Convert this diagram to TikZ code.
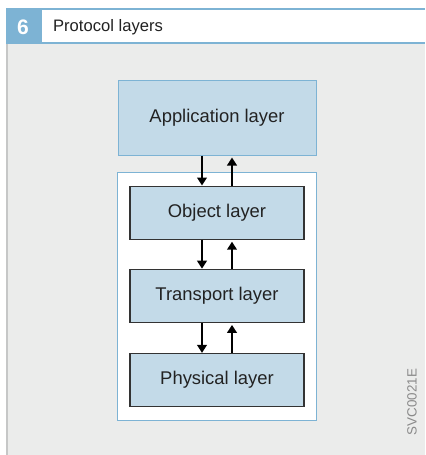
\documentclass[tikz,border=0pt]{standalone}
\usepackage{fontspec}
\setmainfont{Liberation Sans}
\usetikzlibrary{positioning,arrows.meta,fit,backgrounds}
\definecolor{cblue}{HTML}{7DB3D4}
\definecolor{cfill}{HTML}{C3DAE8}
\definecolor{cpanel}{HTML}{EBECEB}
\definecolor{cedge}{HTML}{C6C7C7}
\definecolor{cdark}{HTML}{333333}
\definecolor{ctext}{HTML}{222222}
\definecolor{cgray}{HTML}{8A8A8A}
\tikzset{
  layer/.style   ={draw=cdark,fill=cfill,text=ctext,font=\fontsize{9.2}{11}\selectfont,
                   minimum width=87pt,minimum height=26.5pt,inner sep=0pt,line width=0.6pt},
  applayer/.style={layer,draw=cblue,minimum width=99pt,minimum height=37.5pt,line width=0.5pt},
  stackbox/.style={draw=cblue,fill=white,line width=0.5pt,inner xsep=6pt,inner ysep=6.5pt},
  arr/.style     ={-{Triangle[length=4pt,width=4.8pt]},line width=1pt,black},
  note/.style    ={font=\fontsize{6.7}{8}\selectfont,text=cgray},
}
\begin{document}
\begin{tikzpicture}[x=0.5pt,y=-0.5pt]
 \useasboundingbox (0,0) rectangle (425,455);
 \begin{scope}[on background layer]
  \fill[white] (0,0) rectangle (425,455);
  \fill[cpanel] (8,44) rectangle (425,455);
  \fill[cedge] (6,44) rectangle (8,455);
  \fill[cblue] (6,8) rectangle (425,10);
  \fill[cblue] (6,42) rectangle (425,44);
  \fill[cblue] (6,8) rectangle (42,44);
 \end{scope}
 \node[font=\bfseries\fontsize{10.5}{12}\selectfont,text=white] (num) at (23,27) {6};
 \node[font=\fontsize{8.3}{10}\selectfont,text=ctext,anchor=base west,inner sep=0pt] (title) at (52.7,32) {Protocol layers};
 % layers
 \node[applayer] (app) at (217,117.5) {Application layer};
 \node[layer,below=15pt of app] (obj) {Object layer};
 \node[layer,below=14.5pt of obj] (trans) {Transport layer};
 \node[layer,below=15pt of trans] (phys) {Physical layer};
 \begin{scope}[on background layer]
  \node[stackbox,fit=(obj)(phys)] (stack) {};
 \end{scope}
 \foreach \a/\b in {app/obj,obj/trans,trans/phys}{
  \draw[arr] ([xshift=-7.5pt]\a.south) -- ([xshift=-7.5pt]\b.north);
  \draw[arr,shorten >=1pt] ([xshift=7.5pt]\b.north) -- ([xshift=7.5pt]\a.south);
 }
 \node[note,rotate=90] (code) at (412,402) {SVC0021E};
\end{tikzpicture}
\end{document}
